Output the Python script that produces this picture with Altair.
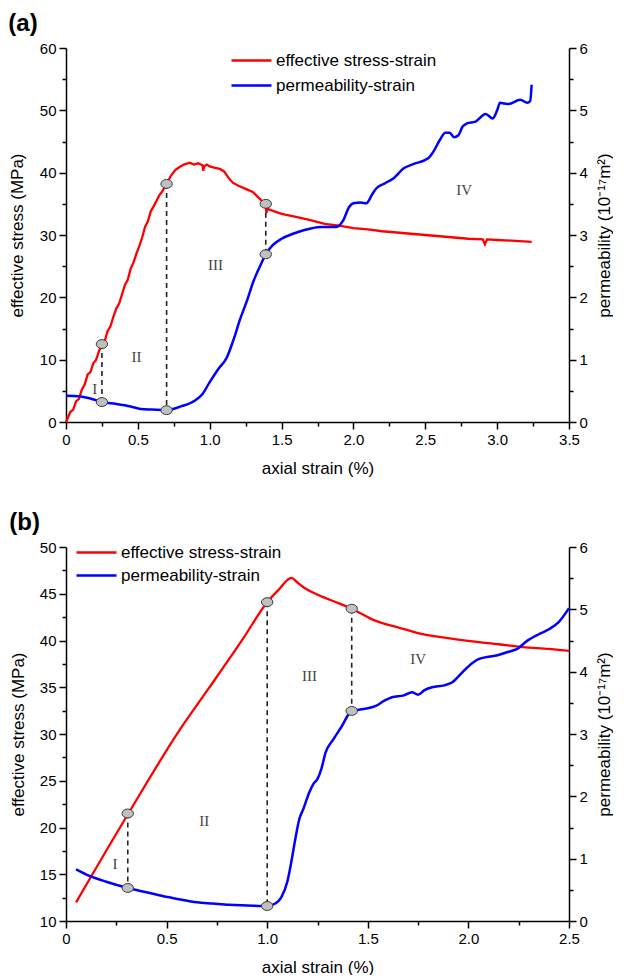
import altair as alt
import pandas as pd
import numpy as np

FONT = "Liberation Sans"
SERIES = ["effective stress-strain", "permeability-strain"]
COLORS = ["#ff0000", "#0000ff"]
REGION_LABELS = ["I", "II", "III", "IV"]

# ---------------- Panel (a) ----------------
A_STRESS_X = [0.00, 0.03, 0.05, 0.07, 0.09, 0.11, 0.13, 0.15, 0.17, 0.19, 0.21, 0.23, 0.25, 0.27,
              0.29, 0.31, 0.33, 0.35, 0.37, 0.39, 0.41, 0.43, 0.45, 0.47, 0.49, 0.51, 0.53, 0.55,
              0.57, 0.59, 0.61, 0.63, 0.65, 0.67, 0.70, 0.73, 0.76, 0.79, 0.82, 0.86, 0.89, 0.92,
              0.95, 0.955, 0.96, 0.98, 1.00, 1.03, 1.07, 1.10, 1.13, 1.16, 1.20, 1.25, 1.30, 1.34,
              1.37, 1.39, 1.395, 1.40, 1.45, 1.50, 1.60, 1.70, 1.80, 1.90, 2.00, 2.10, 2.20, 2.30,
              2.40, 2.50, 2.60, 2.70, 2.80, 2.90, 2.915, 2.93, 3.00, 3.10, 3.24]
A_STRESS_Y = [0.0, 1.6, 2.0, 3.3, 3.7, 5.2, 6.0, 7.6, 8.0, 9.4, 10.0, 11.4, 12.4, 13.0,
              14.6, 15.4, 16.9, 18.2, 19.0, 20.5, 22.0, 22.8, 24.6, 25.6, 27.0, 28.2, 29.6, 31.3,
              32.2, 33.8, 34.6, 35.5, 36.4, 37.0, 38.2, 39.5, 40.4, 40.9, 41.3, 41.6, 41.3, 41.5,
              41.2, 40.3, 41.0, 41.3, 41.0, 40.8, 40.6, 40.2, 39.2, 38.4, 37.9, 37.4, 36.9, 36.0,
              35.3, 34.6, 33.5, 34.2, 33.8, 33.4, 32.9, 32.4, 31.8, 31.5, 31.1, 30.9, 30.6, 30.4,
              30.2, 30.0, 29.8, 29.6, 29.4, 29.3, 28.5, 29.3, 29.2, 29.1, 28.9]
A_PERM_X = [0.00, 0.10, 0.18, 0.25, 0.35, 0.45, 0.52, 0.60, 0.70, 0.80, 0.90, 0.95, 1.00, 1.06,
            1.12, 1.17, 1.21, 1.26, 1.30, 1.35, 1.39, 1.44, 1.50, 1.58, 1.66, 1.77, 1.88, 1.93,
            1.97, 2.00, 2.05, 2.09, 2.13, 2.16, 2.22, 2.28, 2.35, 2.42, 2.52, 2.56, 2.60, 2.64,
            2.67, 2.70, 2.73, 2.76, 2.79, 2.85, 2.92, 2.97, 3.00, 3.02, 3.05, 3.08, 3.16, 3.21,
            3.23, 3.24]
A_PERM_Y = [0.42, 0.41, 0.37, 0.32, 0.29, 0.25, 0.21, 0.20, 0.19, 0.25, 0.35, 0.45, 0.64, 0.85,
            1.04, 1.35, 1.64, 1.95, 2.23, 2.50, 2.69, 2.84, 2.94, 3.02, 3.08, 3.13, 3.13, 3.24,
            3.45, 3.51, 3.52, 3.51, 3.65, 3.75, 3.83, 3.91, 4.07, 4.14, 4.23, 4.35, 4.52, 4.64,
            4.64, 4.57, 4.60, 4.74, 4.79, 4.82, 4.94, 4.87, 5.00, 5.12, 5.11, 5.10, 5.17, 5.12,
            5.15, 5.41]
A_MARK_X = [0.25, 0.70, 1.39]
A_MARK_STRESS = [12.5, 38.2, 35.0]
A_MARK_PERM = [0.32, 0.19, 2.69]
A_REGION_X = [0.20, 0.49, 1.04, 2.77]
A_REGION_Y = [5.3, 10.4, 25.2, 37.2]

# ---------------- Panel (b) ----------------
B_STRESS_X = [0.05, 0.31, 0.57, 0.71, 0.88, 1.00, 1.06, 1.12, 1.15, 1.18, 1.24, 1.33, 1.42,
              1.54, 1.65, 1.75, 1.88, 2.02, 2.15, 2.27, 2.40, 2.50]
B_STRESS_Y = [12.0, 21.5, 30.6, 34.9, 40.2, 44.1, 45.5, 46.7, 46.2, 45.7, 45.0, 44.2, 43.4,
              42.1, 41.4, 40.8, 40.3, 39.9, 39.6, 39.3, 39.1, 38.9]
B_PERM_X = [0.05, 0.12, 0.20, 0.307, 0.40, 0.48, 0.56, 0.65, 0.73, 0.81, 0.90, 1.00, 1.04, 1.07,
            1.10, 1.12, 1.14, 1.16, 1.18, 1.21, 1.23, 1.25, 1.27, 1.29, 1.33, 1.37, 1.42, 1.48,
            1.54, 1.58, 1.62, 1.68, 1.72, 1.75, 1.78, 1.82, 1.88, 1.92, 1.97, 2.02, 2.05, 2.10,
            2.14, 2.20, 2.24, 2.29, 2.35, 2.40, 2.45, 2.50]
B_PERM_Y = [0.83, 0.72, 0.63, 0.53, 0.46, 0.40, 0.35, 0.30, 0.28, 0.26, 0.25, 0.24, 0.28, 0.38,
            0.63, 0.95, 1.32, 1.64, 1.80, 2.07, 2.20, 2.28, 2.45, 2.70, 2.92, 3.12, 3.37, 3.40,
            3.45, 3.53, 3.59, 3.62, 3.67, 3.63, 3.70, 3.75, 3.78, 3.83, 3.99, 4.14, 4.20, 4.24,
            4.26, 4.32, 4.36, 4.49, 4.60, 4.68, 4.80, 5.02]
B_MARK_X = [0.307, 1.00, 1.42]
B_MARK_STRESS = [21.5, 44.1, 43.4]
B_MARK_PERM = [0.53, 0.24, 3.37]
B_REGION_X = [0.244, 0.687, 1.21, 1.75]
B_REGION_Y = [16.1, 20.7, 36.2, 38.0]

PERM_DOMAIN = [0, 6]
ELLIPSE = "M-1,0 A1,0.78 0 1,1 1,0 A1,0.78 0 1,1 -1,0 Z"


def is_major(step):
    return f"abs(datum.value/{step} - round(datum.value/{step})) < 1e-6"


def make_axis(values, major, orient, title, label_expr, title_pad, **extra):
    return alt.Axis(
        values=values,
        orient=orient,
        title=title,
        labelExpr=f"{is_major(major)} ? ({label_expr}) : ''",
        tickSize={"condition": {"test": is_major(major), "value": 7}, "value": 4},
        titlePadding=title_pad,
        labelPadding=3,
        labelFlush=False,
        labelOverlap=False,
        **extra,
    )


def panel(label, sx, sy, px, py, mx, ms, mp, rx, ry, x_max, x_major, y_dom, y_major,
          legend_x, legend_y, row_pad, label_off, left_title_pad, stress_interp):
    x_vals = list(np.round(np.arange(0, x_max + 1e-9, x_major / 2), 4))
    y_vals = list(np.round(np.arange(y_dom[0], y_dom[1] + 1e-9, y_major / 2), 4))
    p_vals = list(np.round(np.arange(0, 6 + 1e-9, 0.5), 4))

    x_axis = make_axis(x_vals, x_major, "bottom", "axial strain (%)",
                       "datum.value == 0 ? '0' : format(datum.value, '.1f')", 13)
    y_axis = make_axis(y_vals, y_major, "left", "effective stress (MPa)",
                       "format(datum.value, 'd')", left_title_pad)
    p_axis = make_axis(p_vals, 1, "right", "permeability (10⁻¹⁷m²)",
                       "format(datum.value, 'd')", 9, titleAngle=270, titleBaseline="top")

    xs = alt.Scale(domain=[0, x_max], nice=False)
    ys = alt.Scale(domain=y_dom, nice=False, zero=False)
    ps = alt.Scale(domain=PERM_DOMAIN, nice=False)

    legend = alt.Legend(
        orient="none", legendX=legend_x, legendY=legend_y, title=None,
        symbolType="M-4,0L4,0", symbolSize=100, symbolStrokeWidth=2.5,
        labelFont=FONT, labelFontSize=17, labelColor="black", labelOffset=label_off,
        labelLimit=400, rowPadding=row_pad, padding=0,
    )
    color = alt.Color("series:N", scale=alt.Scale(domain=SERIES, range=COLORS), legend=legend)

    stress = pd.DataFrame({"x": sx, "y": sy, "series": SERIES[0], "o": range(len(sx))})
    perm = pd.DataFrame({"x": px, "p": py, "series": SERIES[1], "o": range(len(px))})
    conv = lambda v: y_dom[0] + v * (y_dom[1] - y_dom[0]) / (PERM_DOMAIN[1] - PERM_DOMAIN[0])
    marks = pd.DataFrame({"x": mx, "y": ms, "p": mp, "yp": [conv(v) for v in mp]})
    regions = pd.DataFrame({"x": rx, "y": ry, "t": REGION_LABELS})

    X = alt.X("x:Q", scale=xs, axis=x_axis)
    Yl = alt.Y("y:Q", scale=ys, axis=y_axis)

    stress_line = alt.Chart(stress).mark_line(strokeWidth=2.3, interpolate=stress_interp).encode(
        x=X, y=Yl, color=color, order="o:Q")
    rules = alt.Chart(marks).mark_rule(color="#222222", strokeWidth=1.6, strokeDash=[5, 4]).encode(
        x=X, y=Yl, y2="yp:Q")
    texts = alt.Chart(regions).mark_text(font="Liberation Serif", fontSize=15, color="#444444").encode(
        x=X, y=Yl, text="t:N")
    stress_pts = alt.Chart(marks).mark_point(
        shape=ELLIPSE, size=130, filled=True, fill="#c0c0c0", stroke="#3a3a3a",
        strokeWidth=1, opacity=1).encode(x=X, y=Yl)
    left = alt.layer(stress_line, rules, texts, stress_pts)

    Yp = alt.Y("p:Q", scale=ps, axis=p_axis)
    perm_line = alt.Chart(perm).mark_line(strokeWidth=2.5, interpolate="monotone").encode(
        x=X, y=Yp, color=color, order="o:Q")
    perm_pts = alt.Chart(marks).mark_point(
        shape=ELLIPSE, size=130, filled=True, fill="#c0c0c0", stroke="#3a3a3a",
        strokeWidth=1, opacity=1).encode(x=X, y=Yp)
    right = alt.layer(perm_line, perm_pts)

    return alt.layer(left, right).resolve_scale(y="independent").properties(
        width=503, height=374,
        title=alt.TitleParams(label, anchor="start", frame="bounds", fontSize=24,
                              fontWeight="bold", font=FONT, color="black", offset=5, dx=0),
    )


chart_a = panel("(a)", A_STRESS_X, A_STRESS_Y, A_PERM_X, A_PERM_Y, A_MARK_X, A_MARK_STRESS,
                A_MARK_PERM, A_REGION_X, A_REGION_Y, 3.5, 0.5, [0, 60], 10,
                177, 4, 7, 16, 13, "linear")
chart_b = panel("(b)", B_STRESS_X, B_STRESS_Y, B_PERM_X, B_PERM_Y, B_MARK_X, B_MARK_STRESS,
                B_MARK_PERM, B_REGION_X, B_REGION_Y, 2.5, 0.5, [10, 50], 5,
                22, -3, 5, 16, 12, "monotone")

chart = alt.vconcat(chart_a, chart_b, spacing=35).resolve_scale(
    color="independent").resolve_legend(color="independent").configure_view(
    strokeWidth=0).configure_axis(
    grid=False, domainColor="black", domainWidth=1.5, tickColor="black", tickWidth=1.5,
    labelFont=FONT, labelFontSize=15, labelColor="black",
    titleFont=FONT, titleFontSize=17, titleFontWeight="normal", titleColor="black",
).properties(background="white", padding={"left": 0, "top": 4, "right": 0, "bottom": 0})

chart.save("out.html", embed_options={"renderer": "svg", "actions": False})
